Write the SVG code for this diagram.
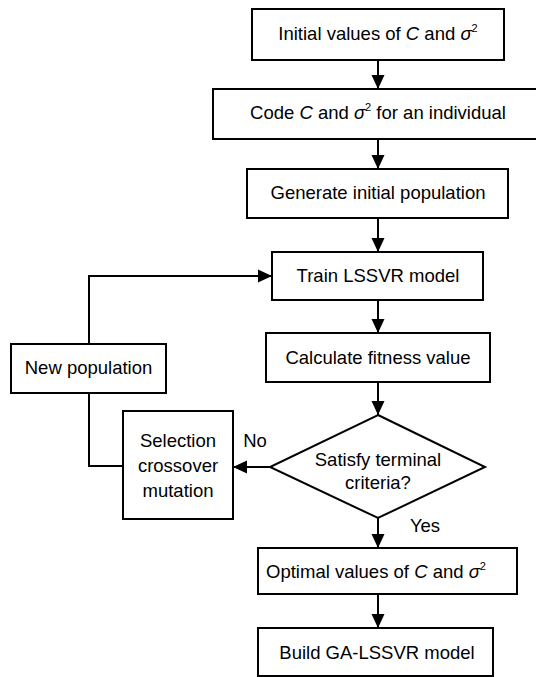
<svg xmlns="http://www.w3.org/2000/svg" width="536" height="677" viewBox="0 0 536 677">
<style>
.b{fill:#fff;stroke:#000;stroke-width:2}
.t{font-family:"Liberation Sans",Arial,sans-serif;font-size:18.5px;fill:#000;text-anchor:middle}
.c{fill:none;stroke:#000;stroke-width:2}
.i{font-style:italic}
.s{font-size:11px}
</style>
<defs>
<marker id="ah" markerWidth="14" markerHeight="14" viewBox="0 0 14 14" refX="14" refY="7" orient="auto" markerUnits="userSpaceOnUse">
<path d="M0,0.5 L14,7 L0,13.5 Z" fill="#000"/>
</marker>
</defs>
<g id="connectors">
<line class="c" x1="378" y1="60" x2="378" y2="89" marker-end="url(#ah)"/>
<line class="c" x1="378" y1="139" x2="378" y2="169" marker-end="url(#ah)"/>
<line class="c" x1="378" y1="218" x2="378" y2="252" marker-end="url(#ah)"/>
<line class="c" x1="378" y1="300" x2="378" y2="333" marker-end="url(#ah)"/>
<line class="c" x1="378" y1="382" x2="378" y2="415" marker-end="url(#ah)"/>
<line class="c" x1="378" y1="518" x2="378" y2="548" marker-end="url(#ah)"/>
<line class="c" x1="378" y1="594" x2="378" y2="628" marker-end="url(#ah)"/>
<line class="c" x1="270" y1="467" x2="233" y2="467" marker-end="url(#ah)"/>
<polyline class="c" points="89,344 89,276 272,276" marker-end="url(#ah)"/>
<polyline class="c" points="89,393 89,466 123,466"/>
</g>
<g id="n1"><rect class="b" x="252" y="9" width="252" height="51"/>
<text class="t" x="378" y="40">Initial values of <tspan class="i">C</tspan> and <tspan class="i">σ</tspan><tspan class="s" dy="-8">2</tspan></text></g>
<g id="n2"><rect class="b" x="213" y="89" width="332" height="50"/>
<text class="t" x="378" y="119">Code <tspan class="i">C</tspan> and <tspan class="i">σ</tspan><tspan class="s" dy="-8">2</tspan><tspan dy="8"> for an individual</tspan></text></g>
<g id="n3"><rect class="b" x="247" y="169" width="261" height="49"/>
<text class="t" x="378" y="199">Generate initial population</text></g>
<g id="n4"><rect class="b" x="272" y="252" width="211" height="48"/>
<text class="t" x="378" y="282">Train LSSVR model</text></g>
<g id="n5"><rect class="b" x="266" y="333" width="224" height="49"/>
<text class="t" x="378" y="364">Calculate fitness value</text></g>
<g id="n6"><polygon class="b" points="378,415 485,467 378,518 270,467"/>
<text class="t" x="378" y="466">Satisfy terminal</text>
<text class="t" x="378" y="489">criteria?</text></g>
<g id="n7"><rect class="b" x="11" y="344" width="155" height="49"/>
<text class="t" x="88.5" y="374">New population</text></g>
<g id="n8"><rect class="b" x="123" y="411" width="110" height="108"/>
<text class="t" x="178" y="447">Selection</text>
<text class="t" x="178" y="472">crossover</text>
<text class="t" x="178" y="497">mutation</text></g>
<g id="n9"><rect class="b" x="258" y="548" width="259" height="46"/>
<text class="t" x="376" y="578">Optimal values of <tspan class="i">C</tspan> and <tspan class="i">σ</tspan><tspan class="s" dy="-8">2</tspan></text></g>
<g id="n10"><rect class="b" x="258" y="628" width="235" height="48"/>
<text class="t" x="377" y="659">Build GA-LSSVR model</text></g>
<g id="labels">
<text class="t" x="255" y="447">No</text>
<text class="t" x="425" y="532">Yes</text>
</g>
</svg>
